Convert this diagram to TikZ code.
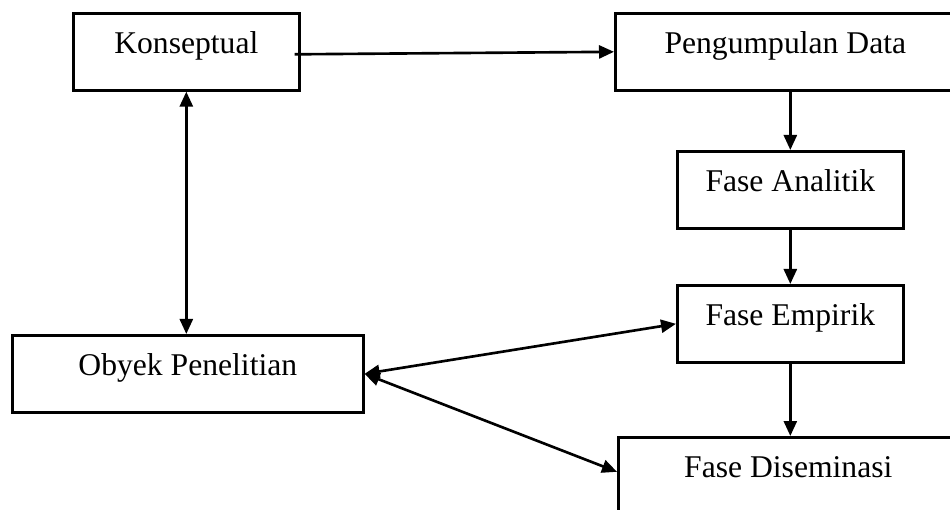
\documentclass[tikz,border=0pt]{standalone}
\usepackage{fontspec}
\setmainfont{Liberation Serif}
\usepackage{tikz}
\usetikzlibrary{arrows.meta, positioning, calc}

\begin{document}
\begin{tikzpicture}[
    phasebox/.style={draw=black, line width=1.5pt, anchor=north west, inner xsep=0pt, inner ysep=0pt,
          text height=0.8cm, text depth=0.74cm, align=center, font=\fontsize{18}{21}\selectfont},
    flow/.style={line width=1.5pt, -{Triangle[length=0.3cm, width=0.26cm]}},
    twoway/.style={line width=1.5pt, {Triangle[length=0.3cm, width=0.26cm]}-{Triangle[length=0.3cm, width=0.26cm]}}
  ]
    \useasboundingbox (0,0) rectangle (19,-10.2);
    \node[phasebox, minimum width=4.52cm] (kons) at (1.44,-0.24) {Konseptual};
    \node[phasebox, minimum width=6.8cm] (peng) at (12.28,-0.24) {Pengumpulan Data};
    \node[phasebox, minimum width=4.52cm] (anal) at (13.52,-3.0) {Fase Analitik};
    \node[phasebox, minimum width=4.52cm] (empi) at (13.52,-5.68) {Fase Empirik};
    \node[phasebox, minimum width=7.02cm] (obyek) at (0.22,-6.68) {Obyek Penelitian};
    \node[phasebox, minimum width=6.8cm] (dise) at (12.34,-8.72) {Fase Diseminasi};

    \draw[flow] ([xshift=-0.12cm, yshift=-0.05cm]kons.east) -- (peng.west);
    \draw[flow] (anal.north |- peng.south) -- (anal.north);
    \draw[flow] (anal.south) -- (empi.north);
    \draw[flow] (empi.south) -- (empi.south |- dise.north);
    \draw[twoway] (kons.south) -- (obyek.north -| kons.south);
    \draw[twoway] (obyek.east) -- (empi.west);
    \draw[twoway] (obyek.east) -- ([yshift=0.08cm]dise.west);
  \end{tikzpicture}
\end{document}
